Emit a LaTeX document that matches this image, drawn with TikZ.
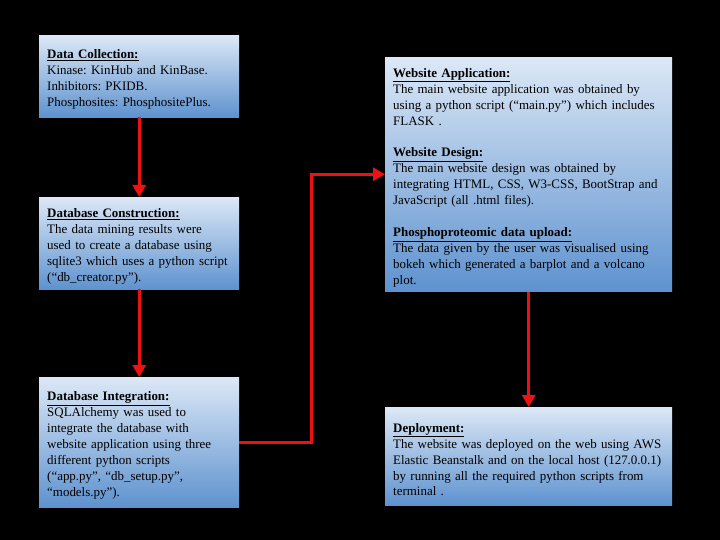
\documentclass[tikz,border=0pt]{standalone}
\usepackage{fontspec}
\setmainfont{Liberation Serif}
\usetikzlibrary{arrows.meta}
\definecolor{boxtop}{HTML}{DCE8F6}
\definecolor{boxbot}{HTML}{5E92CF}
\definecolor{arrowred}{HTML}{EE1111}
\tikzset{
  stagebox/.style={draw=none, top color=boxtop, bottom color=boxbot, anchor=north west,
    align=left, inner xsep=8bp, inner ysep=4bp, font=\fontsize{13}{16}\selectfont},
  flowarrow/.style={draw=arrowred, line width=3bp, -{Triangle[length=12bp,width=13bp]}}
}
\newcommand{\hd}[1]{\underline{\textbf{#1}}}
\newcommand{\topstrut}{\rule{0pt}{16bp}}
\begin{document}
\frenchspacing
\begin{tikzpicture}[x=1bp,y=-1bp]
\fill[black] (0,0) rectangle (720,540);
\useasboundingbox (0,0) rectangle (720,540);

\node[stagebox, minimum width=200bp, minimum height=82bp, text width=184bp] (b1) at (39,35)
 {\topstrut\hd{Data Collection:}\\Kinase: KinHub and KinBase.\\Inhibitors: PKIDB.\\Phosphosites: PhosphositePlus.};

\node[stagebox, minimum width=200bp, minimum height=92bp, text width=184bp] (b2) at (39,197)
 {\topstrut\hd{Database Construction:}\\The data mining results were\\used to create a database using\\sqlite3 which uses a python script\\(“db\_creator.py”).};

\node[stagebox, minimum width=200bp, minimum height=130bp, text width=184bp] (b3) at (39,377)
 {\topstrut\hd{Database Integration:}\\SQLAlchemy was used to\\integrate the database with\\website application using three\\different python scripts\\(“app.py”, “db\_setup.py”,\\“models.py”).};

\node[stagebox, minimum width=287bp, minimum height=233bp, text width=271bp] (b4) at (385,57)
 {\topstrut\hd{Website Application:}\\The main website application was obtained by\\using a python script (“main.py”) which includes\\FLASK .\\[16bp]
 \hd{Website Design:}\\The main website design was obtained by\\integrating HTML, CSS, W3-CSS, BootStrap and\\JavaScript (all .html files).\\[16bp]
 \hd{Phosphoproteomic data upload:}\\The data given by the user was visualised using\\bokeh which generated a barplot and a volcano\\plot.};

\node[stagebox, minimum width=287bp, minimum height=98bp, text width=271bp] (b5) at (385,407)
 {\topstrut\hd{Deployment:}\\The website was deployed on the web using AWS\\Elastic Beanstalk and on the local host (127.0.0.1)\\by running all the required python scripts from\\terminal .};

\draw[flowarrow] (b1.south) -- (b2.north);
\draw[flowarrow] (b2.south) -- (b3.north);
\draw[flowarrow] (b3.east) -- ++(72,0) |- (b4.west);
\draw[flowarrow] (b4.south) -- (b5.north);
\end{tikzpicture}
\end{document}
